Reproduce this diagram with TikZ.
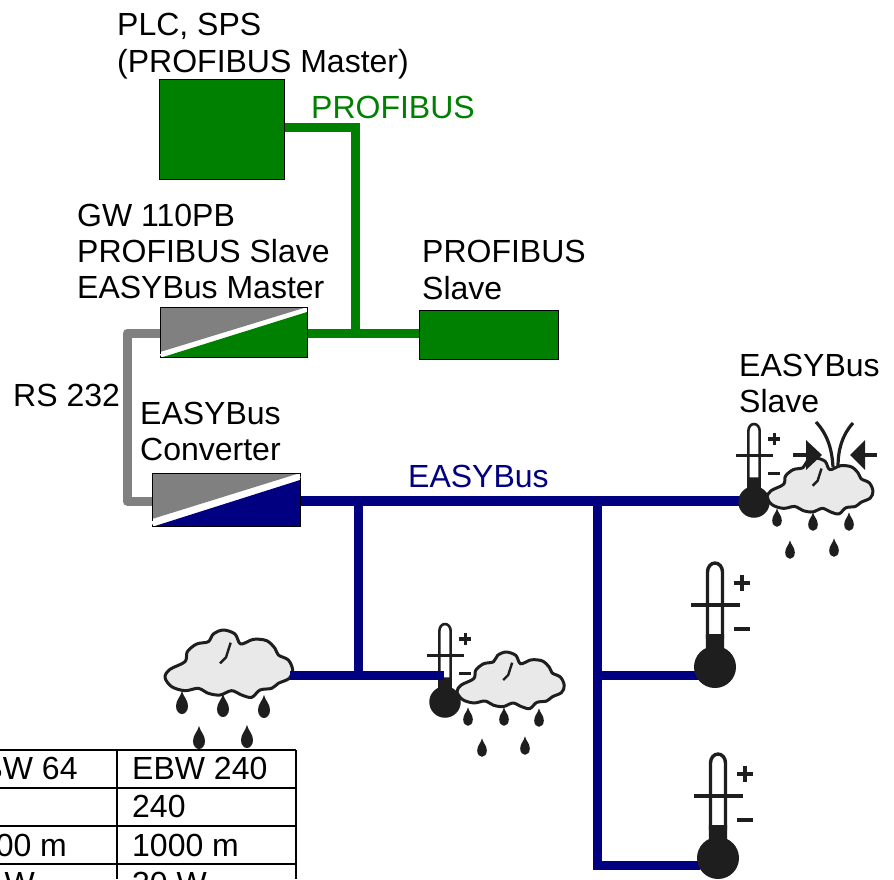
\documentclass[tikz,border=0pt]{standalone}
\usepackage{fontspec}
\setmainfont{Liberation Sans}
\definecolor{pbgreen}{HTML}{008000}
\definecolor{ebnavy}{HTML}{000080}
\definecolor{rsgrey}{HTML}{808080}
\definecolor{ink}{HTML}{1E1E1E}
\definecolor{cloudfill}{HTML}{E9E9E9}
\newcommand{\dropat}[3]{% x y scale
  \fill[ink,shift={(#1,#2)},scale=#3] (0,-12) .. controls (1.5,-6) and (6,-3) .. (6,3) .. controls (6,8) and (3,11) .. (0,11) .. controls (-3,11) and (-6,8) .. (-6,3) .. controls (-6,-3) and (-1.5,-6) .. (0,-12) -- cycle;}
\newcommand{\cloudat}[3]{% top-left x y scale
  \begin{scope}[shift={(#1,#2)},scale=#3/3,shift={(-495,-30)}]
    \draw[ink,line width=3pt,fill=cloudfill,line join=round] plot[smooth cycle,tension=.55] coordinates {(495,172)(510,148)(555,125)(562,95)(590,72)(625,65)(640,42)(670,30)(705,42)(722,72)(760,58)(800,62)(825,85)(835,105)(865,120)(878,150)(868,175)(835,190)(815,205)(780,210)(755,232)(725,225)(695,212)(660,225)(625,220)(595,205)(555,212)(515,200)};
    \draw[ink,line width=2.4pt] (692,68) -- (678,112) -- (660,130);
  \end{scope}}
\newcommand{\thermat}[3]{% bulb centre x y scale
  \begin{scope}[shift={(#1,#2)},scale=#3]
    \draw[ink,line width=#3*3.4pt,fill=white] (-7.5,-30) -- (-7.5,-95) arc[start angle=180,end angle=360,x radius=7.5,y radius=9] -- (7.5,-30) -- cycle;
    \fill[ink] (-9.2,-33) -- (9.2,-33) -- (9.2,-14) -- (16,-5) -- (-16,-5) -- (-9.2,-14) -- cycle;
    \fill[ink] (0,0) circle[radius=21];
    \draw[ink,line width=#3*3.2pt] (-24,-62) -- (25,-62);
    \draw[ink,line width=#3*4.5pt] (19,-84) -- (35,-84) (27,-92) -- (27,-76);
    \draw[ink,line width=#3*4.5pt] (19,-38) -- (35,-38);
  \end{scope}}
\tikzset{
  x=1pt,y=-1pt,
  lbl/.style={anchor=base west,inner sep=0pt,font=\fontsize{32}{37}\selectfont},
  conv/.style={line width=1pt,inner sep=0pt,anchor=north west},
  devbox/.style={draw=black,line width=1pt,fill=pbgreen,inner sep=0pt,anchor=north west},
  pbline/.style={draw=pbgreen,line width=9pt},
  ebline/.style={draw=ebnavy,line width=#1},
  ebline/.default=9pt,
  rsline/.style={draw=rsgrey,line width=9pt,line join=round},
  tbl/.style={black,line width=2pt},
}
\begin{document}
\begin{tikzpicture}
\clip (0,0) rectangle (894,879);
\fill[white] (0,0) rectangle (894,879);

% connector end points and junctions
\coordinate (pbA) at (285,127);
\coordinate (pbB) at (355,127);
\coordinate (pbC) at (355,333);
\coordinate (gwE) at (307,333);
\coordinate (slW) at (419,333);
\coordinate (gwW) at (160,333);
\coordinate (rsA) at (127,333);
\coordinate (rsB) at (127,501);
\coordinate (cvW) at (152,501);
\coordinate (cvE) at (300,501);
\coordinate (s1)  at (745,501);
\coordinate (j1)  at (358,501);
\coordinate (j2)  at (358,675);
\coordinate (cl1) at (290,675);
\coordinate (t2)  at (444,675);
\coordinate (j3)  at (597,501);
\coordinate (j4)  at (597,675);
\coordinate (t3)  at (700,675);
\coordinate (j5)  at (597,865);
\coordinate (t4)  at (700,865);

% boxes
\node[devbox,minimum width=125pt,minimum height=100pt] (plc) at (159,79) {};
\node[devbox,minimum width=139pt,minimum height=49pt] (slave) at (419,310) {};
\node[conv,minimum width=146pt,minimum height=49pt] (gw) at (160,307) {};
\node[conv,minimum width=147pt,minimum height=52pt] (cv) at (152,473) {};

% connectors
\draw[pbline] (pbA) -- (pbB) -- (pbC);
\draw[pbline] (gwE) -- (slW);
\draw[rsline] (gwW) -- (rsA) -- (rsB) -- (cvW);
\draw[ebline=10pt] (cvE) -- (s1);
\draw[ebline] (j1) -- (j2);
\draw[ebline] (j3) -- (j5) -- (t4);
\draw[ebline] (j4) -- (t3);

\fill[rsgrey] (gw.north west) -- (gw.north east) -- (160,352) -- cycle;
\fill[pbgreen] (gw.south east) -- (307,312) -- (163,357) -- cycle;
\draw[black,line width=1pt] (gw.south west) -- (gw.north west) -- (gw.north east);
\draw[black,line width=1pt] (gw.south west) -- (gw.south east) -- (gw.north east);
\draw[white,line width=1.5pt] (160,355) -- (307,310);
\fill[rsgrey] (cv.north west) -- (cv.north east) -- (152,519) -- cycle;
\fill[ebnavy] (cv.south east) -- (300,480) -- (155,526) -- cycle;
\draw[black,line width=1pt] (cv.south west) -- (cv.north west) -- (cv.north east);
\draw[black,line width=1pt] (cv.south west) -- (cv.south east) -- (cv.north east);
\draw[white,line width=3.5pt] (152,523) -- (300,476);

% standalone rain sensor
\cloudat{165}{630}{1}
\foreach \x/\y in {182/703,223/706,264/707,199/738,247/737}{\dropat{\x}{\y}{1}}

% combined sensor, middle
\cloudat{457}{652}{.84}
\foreach \x/\y in {468/717,504/717,539/718,482/748,525/746}{\dropat{\x}{\y}{.8}}
\thermat{445}{702}{.75}

% thermometers
\thermat{715}{667}{1}
\thermat{718}{858}{1}

% combined sensor, right
\cloudat{767}{458}{.83}
\foreach \x/\y in {777/518,813/522,849/522,790/550,834/548}{\dropat{\x}{\y}{.8}}
\thermat{754}{502}{.75}
\draw[ink,line width=3.2pt] (816,422) .. controls (828,435) and (832,450) .. (833,467);
\draw[ink,line width=3.2pt] (853,423) .. controls (842,435) and (838,450) .. (838,467);
\draw[ink,line width=3.5pt] (793,455) -- (810,455);
\fill[ink] (806,440) -- (822,455) -- (806,470) -- cycle;
\draw[ink,line width=3.5pt] (860,455) -- (877,455);
\fill[ink] (865,440) -- (850,455) -- (865,470) -- cycle;

% lines drawn over the sensors
\draw[ebline] (j2) -- (cl1);
\draw[ebline] (j2) -- (t2);

% labels
\node[lbl] (l1) at (117,35) {PLC, SPS};
\node[lbl] (l2) at (117,72) {(PROFIBUS Master)};
\node[lbl,text=pbgreen] (l3) at (311,118) {PROFIBUS};
\node[lbl] (l4) at (77,226) {GW 110PB};
\node[lbl] (l5) at (77,262) {PROFIBUS Slave};
\node[lbl] (l6) at (77,298) {EASYBus Master};
\node[lbl] (l7) at (422,262) {PROFIBUS};
\node[lbl] (l8) at (422,299) {Slave};
\node[lbl] (l9) at (739,376) {EASYBus};
\node[lbl] (l10) at (739,412) {Slave};
\node[lbl] (l11) at (13,406) {RS 232};
\node[lbl] (l12) at (140,424) {EASYBus};
\node[lbl] (l13) at (140,460) {Converter};
\node[lbl,text=ebnavy] (l14) at (408,487) {EASYBus};

% table
\fill[white] (0,750) rectangle (296,879);
\draw[tbl] (0,750) -- (296,750) (0,788) -- (296,788) (0,826) -- (296,826) (0,864) -- (296,864);
\draw[tbl] (117,750) -- (117,879) (296,750) -- (296,879);
\node[lbl] (a1) at (-40,779) {EBW 64};
\node[lbl] (a3) at (-40,856) {1000 m};
\node[lbl] (a4) at (-40,894) {30 W};
\node[lbl] (b1) at (132,779) {EBW 240};
\node[lbl] (b2) at (132,817) {240};
\node[lbl] (b3) at (132,856) {1000 m};
\node[lbl] (b4) at (132,894) {30 W};
\end{tikzpicture}
\end{document}
